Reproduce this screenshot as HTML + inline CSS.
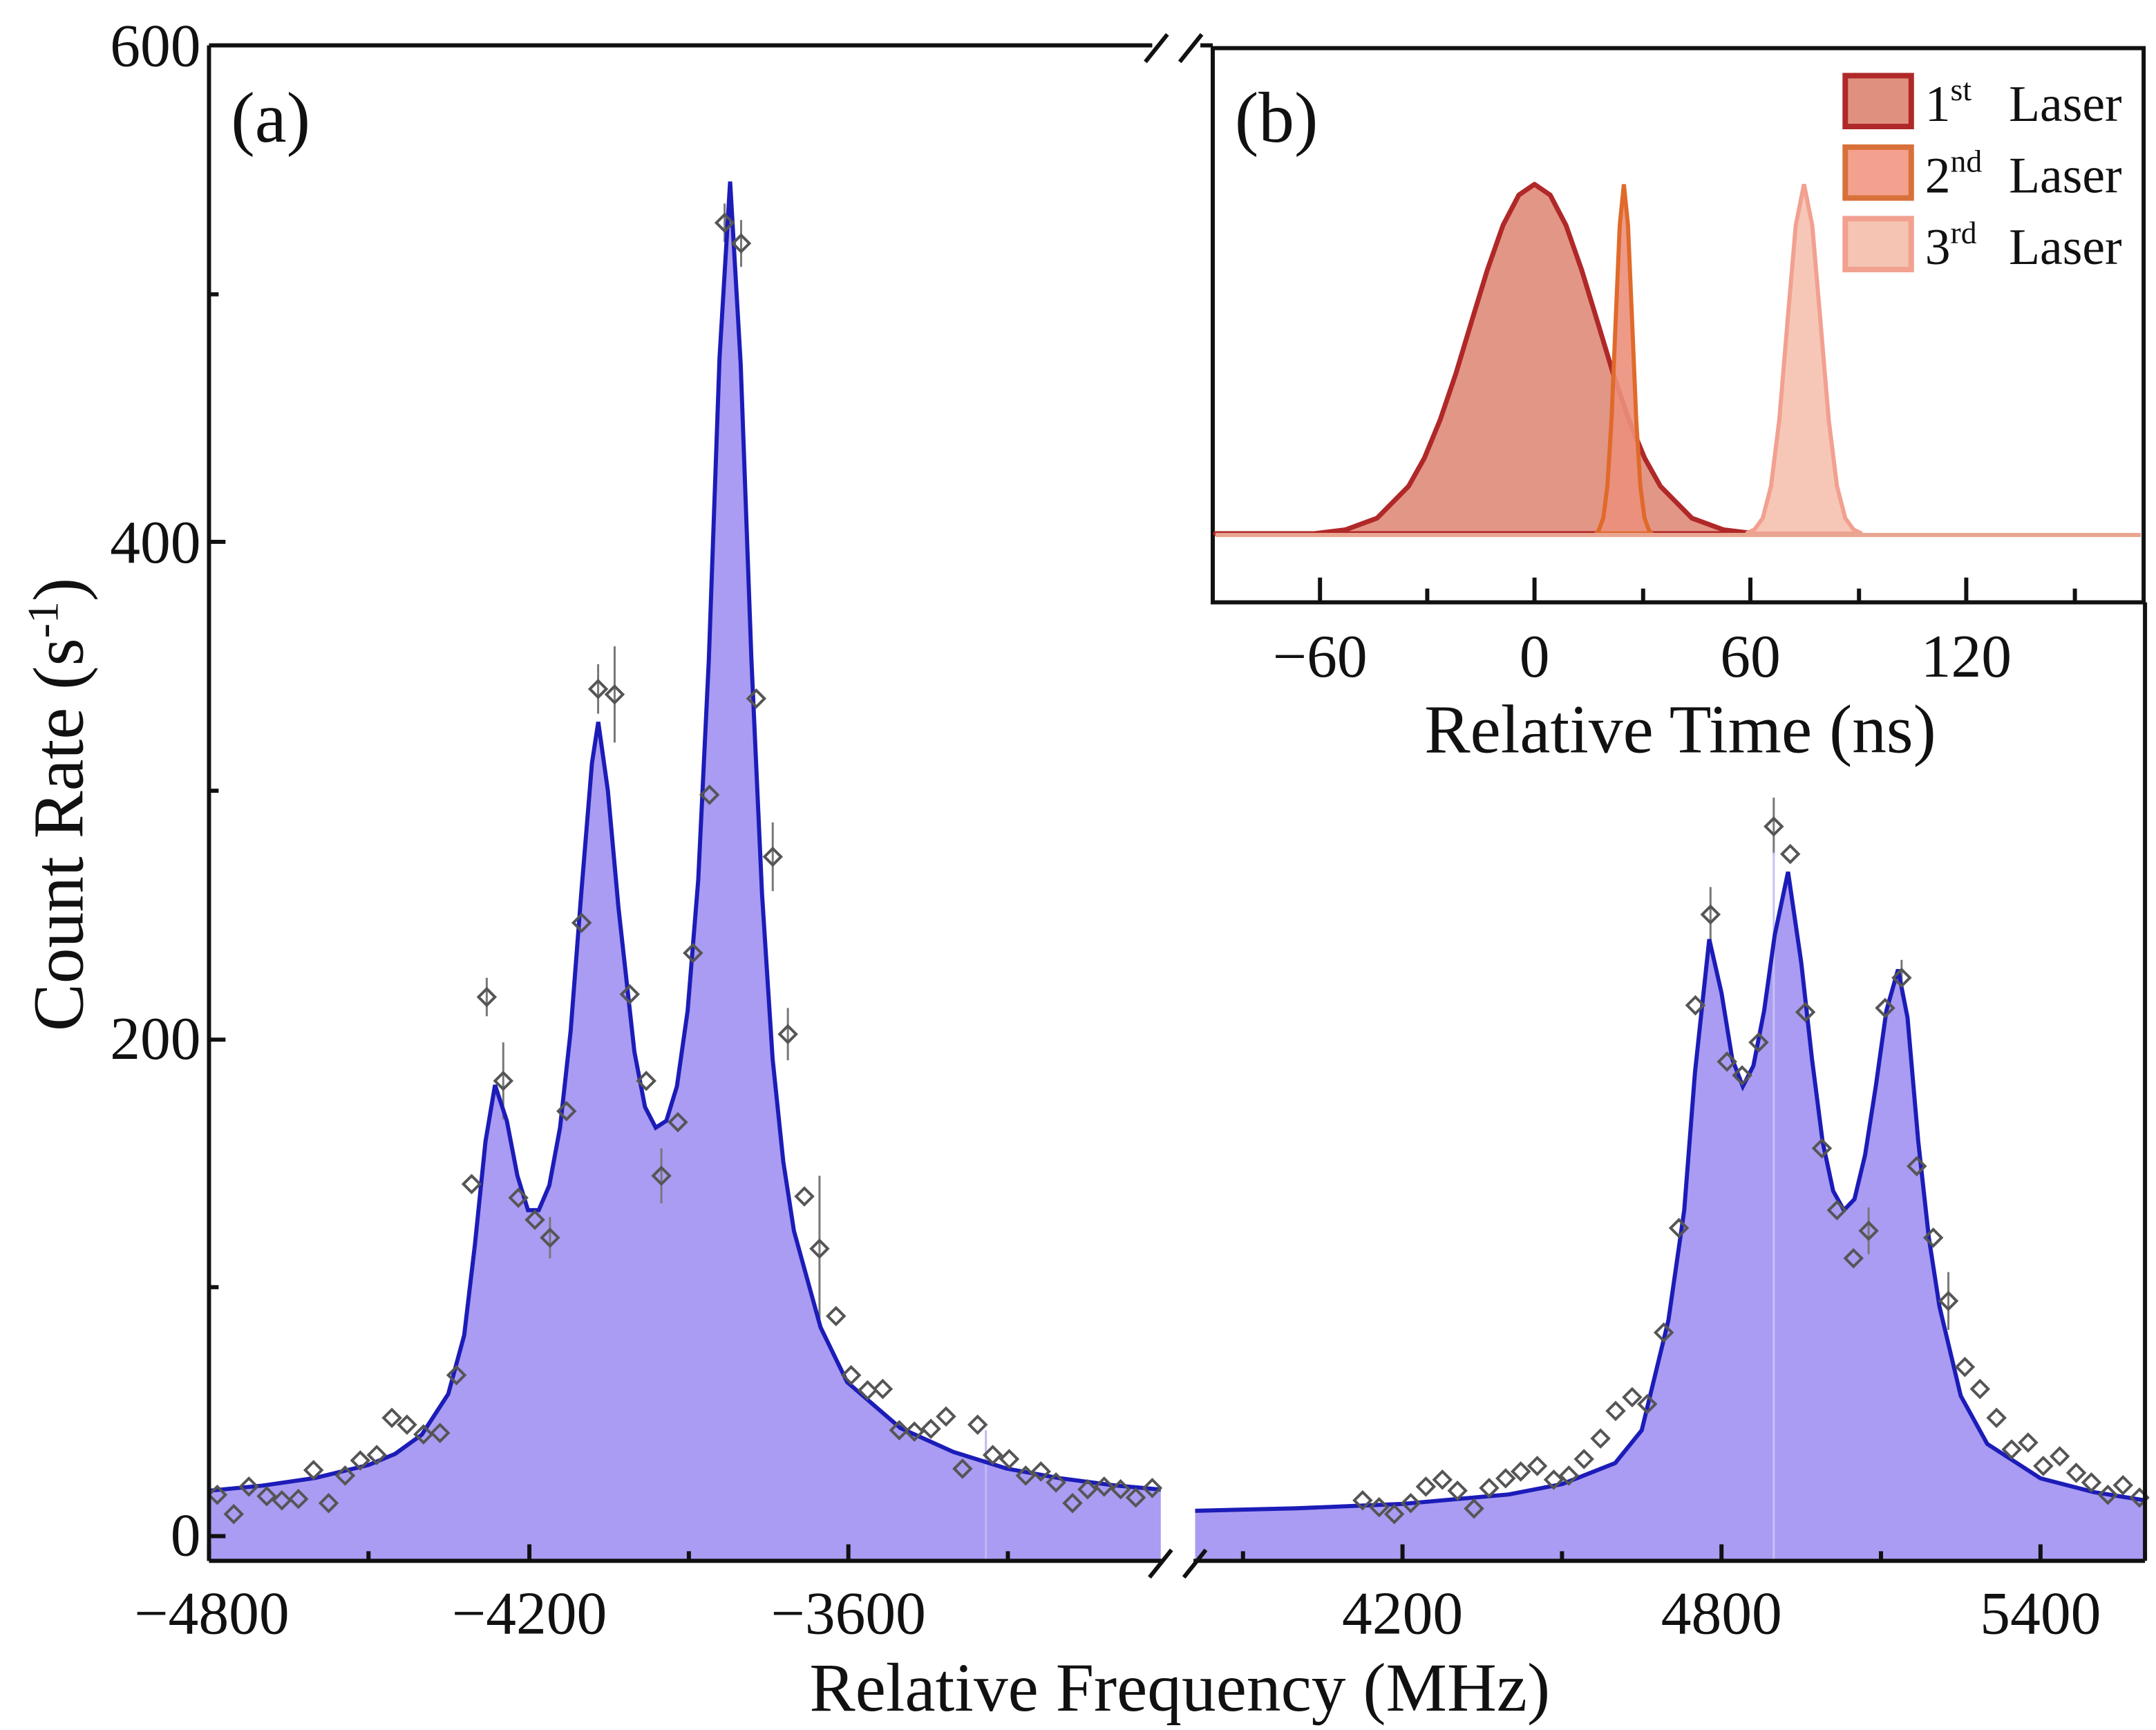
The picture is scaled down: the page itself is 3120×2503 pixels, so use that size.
<!DOCTYPE html>
<html><head><meta charset="utf-8"><style>html,body{margin:0;padding:0;background:#fff}svg{display:block}text{font-family:"Liberation Serif",serif;fill:#111}</style></head>
<body>
<svg width="3120" height="2503" viewBox="0 0 1568 1258" preserveAspectRatio="none" xmlns="http://www.w3.org/2000/svg">
<rect width="1568" height="1258" fill="#fff"/>
<path fill="#a99cf2" d="M152,1135 L152,1084 L190.7,1080.3 L229.3,1074.7 L268,1065.3 L287.4,1057.2 L306.7,1043.3 L326,1013.7 L337.6,970.9 L345.4,905 L353.1,830 L360,789 L368.6,815 L376.3,855 L384,880 L391.8,880 L399.5,862 L407.3,820 L415,750 L422.7,650 L430.5,555 L435.1,525 L442.1,575 L449.8,660 L461.4,765 L469.1,805 L476.9,820 L484.6,815 L492.3,790 L500.1,735 L507.8,640 L515.5,480 L523.3,260 L531,132 L538.7,265 L546.5,480 L554.2,650 L561.9,770 L569.7,845 L577.4,895 L596.7,965 L616.1,1005 L654.8,1038.4 L693.4,1055.8 L732.1,1067.9 L770.8,1074.9 L809.4,1080 L844.2,1083.2 L844.2,1135 Z"/>
<path fill="#a99cf2" d="M869.2,1135 L869.2,1098.6 L942.7,1096.8 L1020,1093.6 L1097.3,1086.7 L1136,1079.2 L1174.7,1063.9 L1194,1040 L1213.4,960 L1224.9,880 L1232.7,780 L1243.1,683 L1252,722 L1259.8,770 L1267.5,790 L1275.2,775 L1283,735 L1290.7,680 L1300.4,634 L1310,700 L1317.8,770 L1325.5,830 L1333.2,866 L1341,880 L1348.7,872 L1356.4,840 L1364.2,790 L1371.9,735 L1380.4,705 L1387.3,740 L1395.1,830 L1402.8,900 L1410.5,950 L1426,1015 L1445.3,1050 L1484,1075 L1522.7,1085 L1559.8,1091 L1559.8,1135 Z"/>
<g stroke="#777" stroke-width="1.5">
<line x1="354" y1="711" x2="354" y2="739"/><line x1="366" y1="758" x2="366" y2="814"/><line x1="435" y1="483" x2="435" y2="519"/><line x1="447" y1="470" x2="447" y2="540"/>
<line x1="527" y1="148" x2="527" y2="176"/><line x1="539" y1="160" x2="539" y2="194"/><line x1="562" y1="598" x2="562" y2="648"/><line x1="573" y1="733" x2="573" y2="771"/>
<line x1="596" y1="855" x2="596" y2="961"/><line x1="481" y1="835" x2="481" y2="875"/><line x1="400" y1="885" x2="400" y2="915"/>
<line x1="1244" y1="645" x2="1244" y2="685"/><line x1="1290" y1="580" x2="1290" y2="622"/><line x1="1290" y1="620" x2="1290" y2="1135" stroke="#c8c0f5"/><line x1="1383" y1="698" x2="1383" y2="724"/><line x1="1417" y1="925" x2="1417" y2="967"/><line x1="1359" y1="878" x2="1359" y2="912"/>
<line x1="717" y1="1040" x2="717" y2="1135" stroke="#c0b8f4"/>
</g>
<polyline fill="none" stroke="#1c1cb8" stroke-width="3" points="152,1084 190.7,1080.3 229.3,1074.7 268,1065.3 287.4,1057.2 306.7,1043.3 326,1013.7 337.6,970.9 345.4,905 353.1,830 360,789 368.6,815 376.3,855 384,880 391.8,880 399.5,862 407.3,820 415,750 422.7,650 430.5,555 435.1,525 442.1,575 449.8,660 461.4,765 469.1,805 476.9,820 484.6,815 492.3,790 500.1,735 507.8,640 515.5,480 523.3,260 531,132 538.7,265 546.5,480 554.2,650 561.9,770 569.7,845 577.4,895 596.7,965 616.1,1005 654.8,1038.4 693.4,1055.8 732.1,1067.9 770.8,1074.9 809.4,1080 844.2,1083.2"/>
<polyline fill="none" stroke="#1c1cb8" stroke-width="3" points="869.2,1098.6 942.7,1096.8 1020,1093.6 1097.3,1086.7 1136,1079.2 1174.7,1063.9 1194,1040 1213.4,960 1224.9,880 1232.7,780 1243.1,683 1252,722 1259.8,770 1267.5,790 1275.2,775 1283,735 1290.7,680 1300.4,634 1310,700 1317.8,770 1325.5,830 1333.2,866 1341,880 1348.7,872 1356.4,840 1364.2,790 1371.9,735 1380.4,705 1387.3,740 1395.1,830 1402.8,900 1410.5,950 1426,1015 1445.3,1050 1484,1075 1522.7,1085 1559.8,1091"/>
<g fill="none" stroke="#555" stroke-width="2">
<path d="M158,1081l6,6l-6,6l-6,-6z M170,1095l6,6l-6,6l-6,-6z M181,1075l6,6l-6,6l-6,-6z M194,1082l6,6l-6,6l-6,-6z M205,1085l6,6l-6,6l-6,-6z M217,1084l6,6l-6,6l-6,-6z M228,1063l6,6l-6,6l-6,-6z M239,1087l6,6l-6,6l-6,-6z M251,1067l6,6l-6,6l-6,-6z M262,1056l6,6l-6,6l-6,-6z M274,1052l6,6l-6,6l-6,-6z M285,1025l6,6l-6,6l-6,-6z M296,1030l6,6l-6,6l-6,-6z M308,1037l6,6l-6,6l-6,-6z M320,1036l6,6l-6,6l-6,-6z M332,994l6,6l-6,6l-6,-6z M343,855l6,6l-6,6l-6,-6z M354,719l6,6l-6,6l-6,-6z M366,780l6,6l-6,6l-6,-6z M377,865l6,6l-6,6l-6,-6z M389,881l6,6l-6,6l-6,-6z M400,894l6,6l-6,6l-6,-6z M412,802l6,6l-6,6l-6,-6z M423,665l6,6l-6,6l-6,-6z M435,495l6,6l-6,6l-6,-6z M447,499l6,6l-6,6l-6,-6z M458,717l6,6l-6,6l-6,-6z M470,780l6,6l-6,6l-6,-6z M481,849l6,6l-6,6l-6,-6z M493,810l6,6l-6,6l-6,-6z M504,687l6,6l-6,6l-6,-6z M516,572l6,6l-6,6l-6,-6z M527,156l6,6l-6,6l-6,-6z M539,171l6,6l-6,6l-6,-6z M550,502l6,6l-6,6l-6,-6z M562,617l6,6l-6,6l-6,-6z M573,746l6,6l-6,6l-6,-6z M585,864l6,6l-6,6l-6,-6z M596,902l6,6l-6,6l-6,-6z M608,951l6,6l-6,6l-6,-6z M619,994l6,6l-6,6l-6,-6z M631,1005l6,6l-6,6l-6,-6z M642,1004l6,6l-6,6l-6,-6z M654,1034l6,6l-6,6l-6,-6z M665,1035l6,6l-6,6l-6,-6z M677,1033l6,6l-6,6l-6,-6z M688,1024l6,6l-6,6l-6,-6z M700,1062l6,6l-6,6l-6,-6z M711,1030l6,6l-6,6l-6,-6z M722,1052l6,6l-6,6l-6,-6z M734,1055l6,6l-6,6l-6,-6z M746,1067l6,6l-6,6l-6,-6z M757,1064l6,6l-6,6l-6,-6z M768,1072l6,6l-6,6l-6,-6z M780,1087l6,6l-6,6l-6,-6z M791,1077l6,6l-6,6l-6,-6z M803,1075l6,6l-6,6l-6,-6z M815,1077l6,6l-6,6l-6,-6z M826,1083l6,6l-6,6l-6,-6z M838,1076l6,6l-6,6l-6,-6z"/>
<path d="M991,1085l6,6l-6,6l-6,-6z M1003,1090l6,6l-6,6l-6,-6z M1014,1095l6,6l-6,6l-6,-6z M1026,1087l6,6l-6,6l-6,-6z M1037,1075l6,6l-6,6l-6,-6z M1049,1070l6,6l-6,6l-6,-6z M1060,1078l6,6l-6,6l-6,-6z M1072,1091l6,6l-6,6l-6,-6z M1083,1076l6,6l-6,6l-6,-6z M1095,1069l6,6l-6,6l-6,-6z M1106,1064l6,6l-6,6l-6,-6z M1118,1060l6,6l-6,6l-6,-6z M1130,1070l6,6l-6,6l-6,-6z M1141,1067l6,6l-6,6l-6,-6z M1152,1055l6,6l-6,6l-6,-6z M1164,1040l6,6l-6,6l-6,-6z M1175,1020l6,6l-6,6l-6,-6z M1187,1010l6,6l-6,6l-6,-6z M1198,1015l6,6l-6,6l-6,-6z M1210,963l6,6l-6,6l-6,-6z M1221,887l6,6l-6,6l-6,-6z M1233,725l6,6l-6,6l-6,-6z M1244,659l6,6l-6,6l-6,-6z M1256,766l6,6l-6,6l-6,-6z M1267,776l6,6l-6,6l-6,-6z M1279,752l6,6l-6,6l-6,-6z M1290,595l6,6l-6,6l-6,-6z M1302,615l6,6l-6,6l-6,-6z M1313,730l6,6l-6,6l-6,-6z M1325,829l6,6l-6,6l-6,-6z M1336,874l6,6l-6,6l-6,-6z M1348,909l6,6l-6,6l-6,-6z M1359,889l6,6l-6,6l-6,-6z M1371,727l6,6l-6,6l-6,-6z M1383,705l6,6l-6,6l-6,-6z M1394,842l6,6l-6,6l-6,-6z M1406,894l6,6l-6,6l-6,-6z M1417,940l6,6l-6,6l-6,-6z M1429,988l6,6l-6,6l-6,-6z M1440,1004l6,6l-6,6l-6,-6z M1452,1025l6,6l-6,6l-6,-6z M1463,1048l6,6l-6,6l-6,-6z M1475,1043l6,6l-6,6l-6,-6z M1486,1060l6,6l-6,6l-6,-6z M1498,1053l6,6l-6,6l-6,-6z M1510,1065l6,6l-6,6l-6,-6z M1521,1072l6,6l-6,6l-6,-6z M1533,1081l6,6l-6,6l-6,-6z M1544,1074l6,6l-6,6l-6,-6z M1556,1083l6,6l-6,6l-6,-6z"/>
</g>
<rect x="882" y="35" width="677" height="403" fill="#fff" stroke="#111" stroke-width="3"/>
<path fill="#e0907f" fill-opacity="0.95" stroke="#b02828" stroke-width="3.5" stroke-linejoin="round" d="M884,388 L956,388 L978.6,385.2 L1001.5,376.8 L1024.4,353.6 L1035.9,333.1 L1047.3,305.5 L1058.8,271.7 L1070.2,233.9 L1081.7,196.3 L1093.1,163.8 L1104.6,141.8 L1116,134 L1127.4,141.8 L1138.9,163.8 L1150.3,196.3 L1161.8,233.9 L1173.2,271.7 L1184.7,305.5 L1196.1,333.1 L1207.6,353.6 L1230.5,376.8 L1253.4,385.2 L1276,388 Z"/>
<path fill="#f5c4b2" fill-opacity="0.95" stroke="#f2a090" stroke-width="3" d="M1270,388 L1276,385 L1282,376.8 L1288,353.6 L1294,305.5 L1300,233.9 L1306,163.8 L1312,134 L1318,163.8 L1324,233.9 L1330,305.5 L1336,353.6 L1342,376.8 L1348,385 L1354,388 Z"/>
<path fill="#ec8f7c" fill-opacity="0.9" stroke="#e06a2a" stroke-width="3" d="M1161,388 L1163,385 L1166,376.8 L1169,353.6 L1172,305.5 L1175,233.9 L1178,163.8 L1181,134 L1184,163.8 L1187,233.9 L1190,305.5 L1193,353.6 L1196,376.8 L1199,385 L1201,388 Z"/>
<line x1="884" y1="389" x2="1557" y2="389" stroke="#e8a690" stroke-width="3"/>
<g stroke="#111" stroke-width="3">
<line x1="960" y1="438" x2="960" y2="420"/><line x1="1038" y1="438" x2="1038" y2="428"/><line x1="1116" y1="438" x2="1116" y2="420"/><line x1="1195" y1="438" x2="1195" y2="428"/><line x1="1273" y1="438" x2="1273" y2="420"/><line x1="1352" y1="438" x2="1352" y2="428"/><line x1="1430" y1="438" x2="1430" y2="420"/><line x1="1509" y1="438" x2="1509" y2="428"/>
</g>
<g stroke="#111" stroke-width="3" fill="none">
<line x1="152" y1="33" x2="152" y2="1135"/>
<line x1="152" y1="33" x2="838" y2="33"/>
<line x1="873" y1="33" x2="882" y2="33"/>
<line x1="152" y1="1135" x2="845" y2="1135"/>
<line x1="868" y1="1135" x2="1560" y2="1135"/>
<line x1="1560" y1="438" x2="1560" y2="1135"/>
<line x1="833" y1="45" x2="849" y2="25"/><line x1="858" y1="45" x2="874" y2="25"/>
<line x1="836" y1="1147" x2="852" y2="1127"/><line x1="861" y1="1147" x2="877" y2="1127"/>
<line x1="152" y1="1135" x2="152" y2="1123"/><line x1="268" y1="1135" x2="268" y2="1128"/><line x1="385" y1="1135" x2="385" y2="1123"/><line x1="501" y1="1135" x2="501" y2="1128"/><line x1="617" y1="1135" x2="617" y2="1123"/><line x1="733" y1="1135" x2="733" y2="1128"/>
<line x1="904" y1="1135" x2="904" y2="1128"/><line x1="1020" y1="1135" x2="1020" y2="1123"/><line x1="1136" y1="1135" x2="1136" y2="1128"/><line x1="1252" y1="1135" x2="1252" y2="1123"/><line x1="1368" y1="1135" x2="1368" y2="1128"/><line x1="1484" y1="1135" x2="1484" y2="1123"/>
<line x1="152" y1="1117" x2="164" y2="1117"/><line x1="152" y1="936" x2="159" y2="936"/><line x1="152" y1="756" x2="164" y2="756"/><line x1="152" y1="575" x2="159" y2="575"/><line x1="152" y1="394" x2="164" y2="394"/><line x1="152" y1="214" x2="159" y2="214"/>
</g>
<g font-size="44" text-anchor="end">
<text x="146" y="48">600</text><text x="146" y="409">400</text><text x="146" y="770">200</text><text x="146" y="1131">0</text>
</g>
<g font-size="44" text-anchor="middle">
<text x="154" y="1188">−4800</text><text x="385" y="1188">−4200</text><text x="617" y="1188">−3600</text>
<text x="1020" y="1188">4200</text><text x="1252" y="1188">4800</text><text x="1484" y="1188">5400</text>
</g>
<text x="858" y="1244" font-size="50" text-anchor="middle">Relative Frequency (MHz)</text>
<text transform="translate(60,585) rotate(-90)" font-size="52" text-anchor="middle">Count Rate (s<tspan dy="-18" font-size="32">-1</tspan><tspan dy="18">)</tspan></text>
<text x="168" y="103" font-size="52">(a)</text>
<text x="898" y="103" font-size="52">(b)</text>
<g font-size="44" text-anchor="middle">
<text x="960" y="492">−60</text><text x="1116" y="492">0</text><text x="1273" y="492">60</text><text x="1430" y="492">120</text>
</g>
<text x="1222" y="547" font-size="50" text-anchor="middle">Relative Time (ns)</text>
<rect x="1342" y="55" width="48" height="37" fill="#e0907f" stroke="#b02828" stroke-width="4"/>
<rect x="1342" y="107" width="48" height="37" fill="#f4a08e" stroke="#d8703a" stroke-width="4"/>
<rect x="1342" y="159" width="48" height="37" fill="#f5c4b2" stroke="#f2a090" stroke-width="4"/>
<g font-size="37">
<text x="1400" y="88">1<tspan dy="-15" font-size="23">st</tspan><tspan dy="15" x="1461">Laser</tspan></text>
<text x="1400" y="140">2<tspan dy="-15" font-size="23">nd</tspan><tspan dy="15" x="1461">Laser</tspan></text>
<text x="1400" y="192">3<tspan dy="-15" font-size="23">rd</tspan><tspan dy="15" x="1461">Laser</tspan></text>
</g>
</svg>
</body></html>
